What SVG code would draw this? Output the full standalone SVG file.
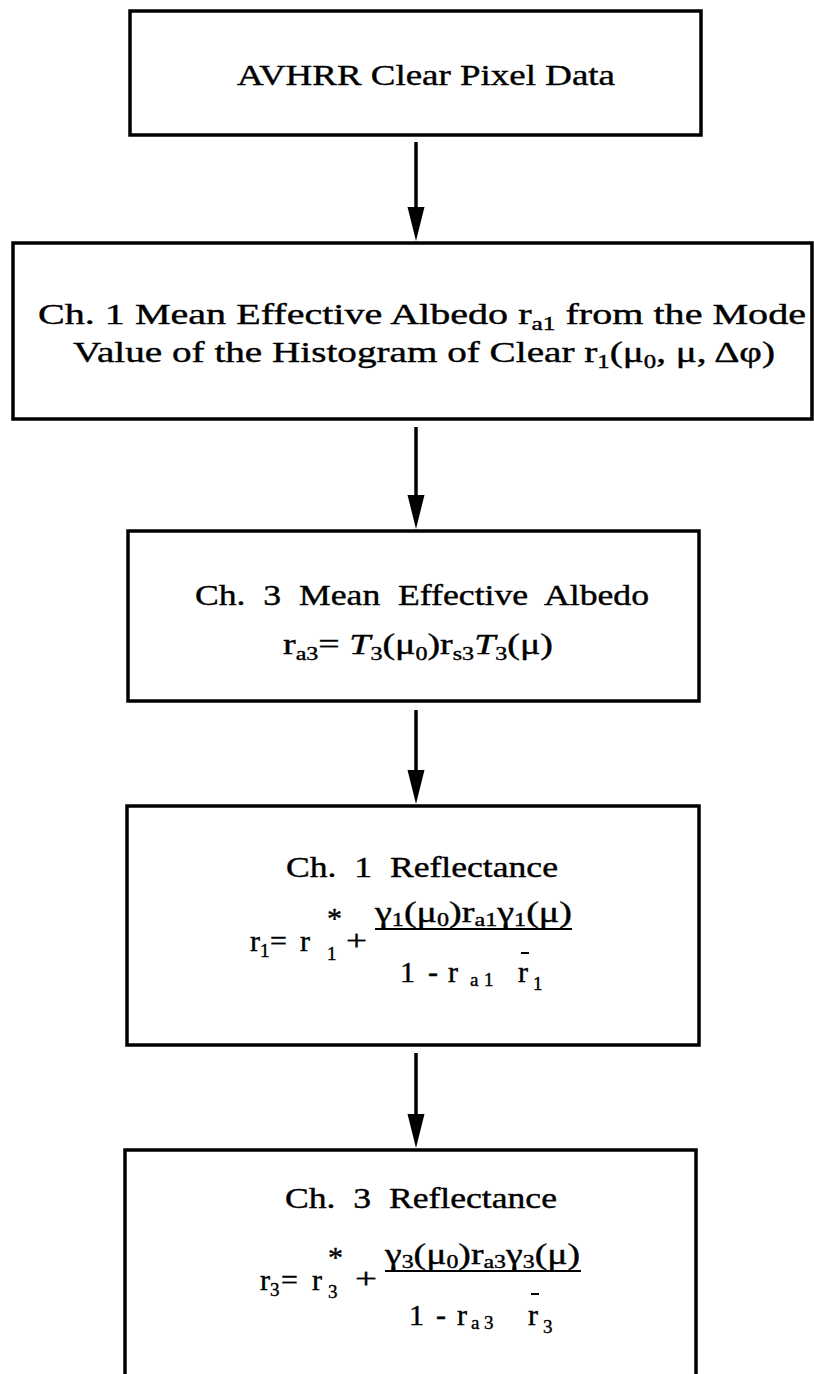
<svg xmlns="http://www.w3.org/2000/svg" width="814" height="1374" viewBox="0 0 814 1374">
<style>
.box{fill:none;stroke:#000;stroke-width:3.5}
.t{font-family:"Liberation Serif","Times New Roman",serif;font-size:30px;fill:#000;stroke:#000;stroke-width:0.4}
.s{font-size:19px}
.conn{stroke:#000;stroke-width:3.5;fill:none}
.rule{stroke:#000;stroke-width:2}
</style>
<defs>
<marker id="ah" markerUnits="userSpaceOnUse" markerWidth="36" markerHeight="18" refX="14" refY="8.5" orient="auto">
<path d="M0,0 L34,8.5 L0,17 Z" fill="#000"/>
</marker>
</defs>
<rect width="814" height="1374" fill="#fff"/>
<g id="connectors">
<line class="conn" x1="416" y1="142" x2="416" y2="221" marker-end="url(#ah)"/>
<line class="conn" x1="416" y1="427" x2="416" y2="509" marker-end="url(#ah)"/>
<line class="conn" x1="416" y1="710" x2="416" y2="784" marker-end="url(#ah)"/>
<line class="conn" x1="416" y1="1053" x2="416" y2="1128" marker-end="url(#ah)"/>
</g>
<g id="n1">
<rect class="box" x="130" y="11" width="571" height="124"/>
<text class="t" x="237" y="85" textLength="378" lengthAdjust="spacingAndGlyphs">AVHRR Clear Pixel Data</text>
</g>
<g id="n2">
<rect class="box" x="13" y="243" width="799" height="176"/>
<text class="t" x="38" y="324" textLength="768" lengthAdjust="spacingAndGlyphs">Ch. 1 Mean Effective Albedo r<tspan class="s" dy="6">a1</tspan><tspan dy="-6"> from the Mode</tspan></text>
<text class="t" x="73" y="362" textLength="702" lengthAdjust="spacingAndGlyphs">Value of the Histogram of Clear r<tspan class="s" dy="6">1</tspan><tspan dy="-6">(μ</tspan><tspan class="s" dy="6">0</tspan><tspan dy="-6">, μ, Δφ)</tspan></text>
</g>
<g id="n3">
<rect class="box" x="128" y="531" width="571" height="170"/>
<text class="t" x="195" y="605" textLength="454" lengthAdjust="spacingAndGlyphs" xml:space="preserve">Ch.  3  Mean  Effective  Albedo</text>
<text class="t" x="283" y="654" textLength="270" lengthAdjust="spacingAndGlyphs">r<tspan class="s" dy="6">a3</tspan><tspan dy="-6">= </tspan><tspan font-style="italic">T</tspan><tspan class="s" dy="6">3</tspan><tspan dy="-6">(μ</tspan><tspan class="s" dy="6">0</tspan><tspan dy="-6">)r</tspan><tspan class="s" dy="6">s3</tspan><tspan dy="-6" font-style="italic">T</tspan><tspan class="s" dy="6">3</tspan><tspan dy="-6">(μ)</tspan></text>
</g>
<g id="n4">
<rect class="box" x="127" y="806" width="572" height="239"/>
<text class="t" x="286" y="877" textLength="272" lengthAdjust="spacingAndGlyphs" xml:space="preserve">Ch.  1  Reflectance</text>
<text class="t" x="250" y="951">r</text>
<text class="t s" x="260" y="957">1</text>
<text class="t" x="270" y="951">=</text>
<text class="t" x="300" y="951">r</text>
<text class="t" x="327" y="928" font-size="21">*</text>
<text class="t s" x="327" y="960">1</text>
<text class="t" x="346" y="950" textLength="21" lengthAdjust="spacingAndGlyphs">+</text>
<text class="t" x="375" y="922" textLength="197" lengthAdjust="spacingAndGlyphs">γ<tspan class="s" dy="4">1</tspan><tspan dy="-4">(μ</tspan><tspan class="s" dy="4">0</tspan><tspan dy="-4">)r</tspan><tspan class="s" dy="4">a1</tspan><tspan dy="-4">γ</tspan><tspan class="s" dy="4">1</tspan><tspan dy="-4">(μ)</tspan></text>
<line class="rule" x1="375" y1="929" x2="572" y2="929"/>
<text class="t" x="400" y="982">1</text>
<text class="t" x="428" y="982">-</text>
<text class="t" x="448" y="982">r</text>
<text class="t s" x="470" y="986">a</text>
<text class="t s" x="484" y="986">1</text>
<text class="t" x="518" y="982">r</text>
<line class="rule" x1="521" y1="953" x2="529" y2="953"/>
<text class="t s" x="533" y="990">1</text>
</g>
<g id="n5">
<path class="box" d="M125,1374 V1150 H696 V1374"/>
<text class="t" x="285" y="1208" textLength="272" lengthAdjust="spacingAndGlyphs" xml:space="preserve">Ch.  3  Reflectance</text>
<text class="t" x="260" y="1290">r</text>
<text class="t s" x="270" y="1296">3</text>
<text class="t" x="281" y="1290">=</text>
<text class="t" x="312" y="1290">r</text>
<text class="t" x="328" y="1267" font-size="21">*</text>
<text class="t s" x="328" y="1298">3</text>
<text class="t" x="355" y="1288" textLength="22" lengthAdjust="spacingAndGlyphs">+</text>
<text class="t" x="385" y="1264" textLength="195" lengthAdjust="spacingAndGlyphs">γ<tspan class="s" dy="4">3</tspan><tspan dy="-4">(μ</tspan><tspan class="s" dy="4">0</tspan><tspan dy="-4">)r</tspan><tspan class="s" dy="4">a3</tspan><tspan dy="-4">γ</tspan><tspan class="s" dy="4">3</tspan><tspan dy="-4">(μ)</tspan></text>
<line class="rule" x1="385" y1="1271" x2="581" y2="1271"/>
<text class="t" x="409" y="1325">1</text>
<text class="t" x="436" y="1325">-</text>
<text class="t" x="457" y="1325">r</text>
<text class="t s" x="471" y="1329">a</text>
<text class="t s" x="484" y="1329">3</text>
<text class="t" x="528" y="1325">r</text>
<line class="rule" x1="531" y1="1294" x2="539" y2="1294"/>
<text class="t s" x="543" y="1333">3</text>
</g>
</svg>
